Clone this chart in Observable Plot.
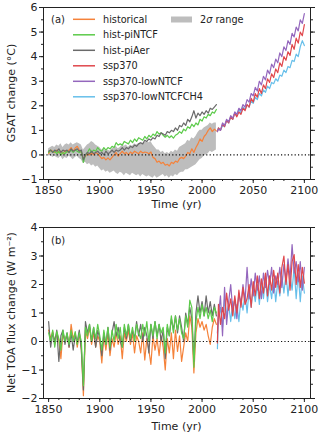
<!DOCTYPE html>
<html><head><meta charset="utf-8">
<script src="https://cdn.jsdelivr.net/npm/d3@7"></script>
<script src="https://cdn.jsdelivr.net/npm/@observablehq/plot@0.6"></script>
<style>
body{margin:0;background:#fff;font-family:"DejaVu Sans",sans-serif;}
#chart{width:320px;height:435px;}
svg{display:block;}
</style></head><body><div id="chart"></div>
<script>
// ---------- data ----------
const histYears = [
1850,1852,1854,1856,1858,1860,1862,1864,1866,1868,
1870,1872,1874,1876,1878,1880,1882,1884,1886,1888,
1890,1892,1894,1896,1898,1900,1902,1904,1906,1908,
1910,1912,1914,1916,1918,1920,1922,1924,1926,1928,
1930,1932,1934,1936,1938,1940,1942,1944,1946,1948,
1950,1952,1954,1956,1958,1960,1962,1964,1966,1968,
1970,1972,1974,1976,1978,1980,1982,1984,1986,1988,
1990,1992,1994,1996,1998,2000,2002,2004,2006,2008,
2010,2012,2014];
const sspYears = [2015,
2016,2018,2020,2022,2024,2026,2028,2030,2032,2034,
2036,2038,2040,2042,2044,2046,2048,2050,2052,2054,
2056,2058,2060,2062,2064,2066,2068,2070,2072,2074,
2076,2078,2080,2082,2084,2086,2088,2090,2092,2094,
2096,2098,2100];

// Panel (a): GSAT change (°C)
const gsatHistorical = [
0.05,0.2,0.15,0.1,0.2,0.08,0.15,0.05,0.18,0.12,
0.2,0.3,0.15,0.28,0.35,0.2,0.1,-0.15,-0.05,0.05,
0.0,0.08,0.0,0.1,0.05,-0.05,-0.15,-0.1,-0.2,-0.12,
-0.2,-0.1,0.0,0.1,-0.05,0.05,0.15,0.05,0.1,0.0,
0.12,0.05,0.15,0.1,0.05,0.15,0.08,0.12,0.1,0.05,
0.12,-0.1,-0.15,-0.3,-0.25,-0.35,-0.3,-0.42,-0.38,-0.45,
-0.3,-0.35,-0.25,-0.3,-0.15,-0.1,-0.15,-0.05,0.1,0.05,
0.25,0.1,0.3,0.45,0.65,0.55,0.75,0.85,1.0,1.1,
0.95,1.05,0.98];
const gsatRangeLow = [
-0.05,0.0,-0.1,-0.05,-0.1,-0.15,-0.05,-0.2,-0.1,-0.15,
-0.05,-0.1,-0.2,-0.1,-0.05,-0.15,-0.2,-0.35,-0.3,-0.4,
-0.35,-0.45,-0.4,-0.5,-0.45,-0.55,-0.65,-0.6,-0.7,-0.65,
-0.75,-0.7,-0.65,-0.75,-0.8,-0.7,-0.75,-0.85,-0.75,-0.8,
-0.85,-0.75,-0.8,-0.85,-0.8,-0.9,-0.8,-0.85,-0.9,-0.85,
-0.9,-0.95,-0.85,-0.95,-0.9,-0.85,-0.8,-0.9,-0.85,-0.95,
-0.85,-0.9,-0.8,-0.85,-0.75,-0.7,-0.7,-0.6,-0.6,-0.55,
-0.5,-0.45,-0.4,-0.3,-0.2,-0.15,-0.05,0.0,0.05,0.15,
0.1,0.15,0.2];
const gsatRangeHigh = [
0.25,0.3,0.35,0.3,0.4,0.35,0.45,0.3,0.4,0.45,
0.4,0.5,0.4,0.45,0.5,0.45,0.4,0.2,0.3,0.4,
0.45,0.55,0.5,0.4,0.35,0.3,0.2,0.25,0.15,0.2,
0.15,0.25,0.3,0.35,0.25,0.3,0.4,0.35,0.4,0.3,
0.4,0.35,0.45,0.4,0.45,0.5,0.45,0.5,0.55,0.5,
0.55,0.4,0.3,0.2,0.2,0.1,0.15,0.05,0.1,0.05,
0.15,0.1,0.2,0.15,0.3,0.35,0.4,0.45,0.6,0.55,
0.7,0.65,0.75,0.9,1.0,1.0,1.1,1.15,1.2,1.3,
1.25,1.3,1.3];
const gsatPiNTCF = [
0.1,0.2,0.1,0.15,0.05,0.15,0.0,0.1,0.05,0.15,
0.1,0.2,0.1,0.2,0.15,0.1,0.15,-0.3,0.0,0.1,
0.25,0.1,0.2,0.15,0.3,0.2,0.15,0.3,0.2,0.3,
0.25,0.35,0.3,0.5,0.4,0.45,0.4,0.55,0.5,0.45,
0.6,0.5,0.65,0.55,0.7,0.65,0.6,0.75,0.65,0.8,
0.72,0.85,0.78,0.95,0.85,0.9,0.8,0.72,0.8,0.7,
0.78,0.68,0.8,0.85,0.95,0.88,1.05,0.98,1.15,1.08,
1.25,1.15,1.3,1.22,1.45,1.38,1.55,1.5,1.65,1.6,
1.75,1.7,1.85];
const gsatPiAer = [
0.15,0.2,0.1,0.2,0.15,0.25,0.1,0.2,0.15,0.2,
0.1,0.25,0.15,0.2,0.25,0.15,0.2,-0.2,0.0,0.1,
0.05,0.15,0.05,0.1,0.15,0.05,0.1,0.0,0.15,0.05,
0.1,0.2,0.1,0.2,0.15,0.2,0.3,0.2,0.3,0.25,
0.35,0.3,0.4,0.35,0.45,0.5,0.45,0.6,0.55,0.65,
0.6,0.7,0.65,0.8,0.75,0.9,0.85,0.8,0.95,0.9,
1.0,0.95,1.1,1.0,1.2,1.15,1.3,1.2,1.45,1.35,
1.55,1.8,1.5,1.7,1.6,1.75,1.65,1.8,1.7,1.9,
1.85,1.95,2.05];
const gsatSsp370 = [0.95,
1.1,1.0,1.25,1.15,1.4,1.3,1.55,1.45,1.7,1.55,
1.75,1.65,1.9,1.8,2.05,1.95,2.3,2.15,2.5,2.35,
2.7,2.5,2.85,2.7,3.1,2.95,3.3,3.15,3.5,3.35,
3.75,3.6,4.0,3.85,4.2,4.05,4.5,4.3,4.75,4.55,
5.0,4.85,5.3];
const gsatLowNTCF = [0.95,
1.05,1.0,1.3,1.2,1.45,1.35,1.6,1.5,1.75,1.65,
1.9,1.8,2.05,1.95,2.25,2.15,2.5,2.4,2.75,2.6,
3.0,2.85,3.2,3.05,3.45,3.3,3.7,3.55,3.9,3.75,
4.15,4.0,4.4,4.25,4.65,4.5,4.95,4.8,5.2,5.05,
5.5,5.35,5.75];
const gsatLowNTCFCH4 = [1.0,
1.1,1.0,1.2,1.15,1.4,1.3,1.55,1.45,1.7,1.6,
1.85,1.7,1.95,1.85,2.05,1.95,2.2,2.1,2.35,2.25,
2.5,2.4,2.65,2.55,2.8,2.7,2.95,2.9,3.1,3.0,
3.25,3.2,3.45,3.35,3.6,3.55,3.85,3.8,4.1,4.0,
4.4,4.65,4.45];

// Panel (b): Net TOA flux change (W m-2)
const toaHistorical = [
0.4,0.1,0.35,-0.1,0.3,0.05,-0.6,0.3,0.0,0.25,
-0.2,0.6,0.1,0.3,-0.2,0.3,-0.3,-1.9,0.4,0.1,
0.5,-0.1,0.3,-0.2,0.2,0.0,-0.75,0.2,-0.3,0.3,
-0.5,0.1,-0.2,0.3,-0.1,0.2,-0.6,0.3,0.0,0.4,
-0.1,0.3,-0.4,0.2,0.0,-0.4,0.3,-0.65,0.1,-0.3,
-0.8,0.2,-0.3,0.1,-0.5,0.2,-0.2,-1.0,0.1,-0.4,
0.3,-0.6,0.4,-0.35,0.2,-0.7,-0.2,0.3,0.0,0.9,
0.5,-1.1,0.3,0.8,0.5,0.7,0.4,0.6,0.2,-0.1,
0.5,0.8,0.6];
const toaPiNTCF = [
0.3,0.0,0.4,-0.2,0.35,0.1,-0.3,0.4,0.0,0.3,
-0.1,0.4,0.0,0.35,-0.1,0.3,0.0,-1.55,0.5,0.2,
0.6,0.0,0.5,0.1,0.6,0.2,-0.3,0.4,-0.1,0.5,
-0.2,0.4,0.0,0.6,0.1,0.5,-0.2,0.6,0.2,0.6,
0.1,0.5,0.0,0.6,0.3,0.1,0.6,0.2,0.7,0.0,
0.6,0.2,0.7,0.1,0.6,0.3,0.5,-0.4,0.6,0.2,
0.9,0.3,0.9,0.4,0.8,0.3,0.1,0.9,0.5,1.45,
1.2,-0.9,0.7,1.2,0.8,1.3,0.9,1.2,0.8,1.1,
0.7,1.2,1.0];
const toaPiAer = [
0.7,-0.2,0.3,0.0,0.4,-0.7,0.2,0.4,-0.1,0.3,
-0.2,0.3,-0.3,0.2,0.0,0.4,-0.3,-1.7,0.7,0.3,
0.6,0.0,0.5,-0.2,0.4,0.1,-0.5,0.3,-0.1,0.5,
-0.3,0.3,0.7,0.2,0.5,0.0,-0.2,0.5,0.1,0.6,
0.0,0.4,0.1,0.7,0.2,0.6,0.0,0.5,0.2,-0.4,
0.6,0.1,0.7,0.2,0.6,0.0,0.4,-0.6,0.5,0.2,
0.8,0.4,0.9,0.3,0.9,0.5,0.0,1.0,0.6,1.2,
0.8,-0.7,1.0,1.6,1.0,1.4,0.9,1.6,1.0,1.4,
0.9,1.3,0.9];
const toaSsp370 = [-0.05,
1.3,0.6,1.2,0.8,1.7,1.1,1.5,0.9,1.6,1.0,
1.8,1.2,1.9,1.3,1.5,2.0,1.2,2.1,1.6,2.3,
1.5,2.2,1.7,2.4,1.6,2.3,1.8,2.5,1.9,2.4,
1.7,2.6,3.0,2.0,2.7,1.8,2.8,3.05,2.0,2.7,
1.9,2.6,2.05];
const toaLowNTCF = [0.3,
0.9,1.6,0.2,1.9,0.6,1.4,2.0,1.1,1.5,0.8,
1.7,1.3,2.0,1.4,2.6,1.5,2.2,1.6,2.4,1.8,
2.3,1.5,2.4,1.9,2.5,2.0,2.6,1.7,2.3,2.0,
2.6,1.9,2.7,2.1,2.9,2.2,3.4,2.4,2.8,2.1,
2.8,1.8,2.6];
const toaLowNTCFCH4 = [-0.25,
0.8,1.2,0.5,1.5,0.9,1.3,0.7,1.4,0.8,1.3,
0.7,1.5,1.1,1.7,1.0,1.8,1.2,1.9,1.4,2.0,
1.3,2.1,1.5,2.2,1.4,2.0,1.5,2.2,1.4,2.1,
1.6,2.3,1.7,2.4,1.6,2.3,1.8,2.6,1.5,2.4,
1.4,2.3,1.7];

const xMajor = [1850,1900,1950,2000,2050,2100];
const xMinor = [1850,1860,1870,1880,1890,1900,1910,1920,1930,1940,1950,1960,1970,1980,1990,2000,2010,2020,2030,2040,2050,2060,2070,2080,2090,2100];
const yMajorA = [-1,0,1,2,3,4,5,6];
const yMinorA = [-1,-0.5,0,0.5,1,1.5,2,2.5,3,3.5,4,4.5,5,5.5,6];
const yMajorB = [-2,-1,0,1,2,3,4];
const yMinorB = [-2,-1.5,-1,-0.5,0,0.5,1,1.5,2,2.5,3,3.5,4];

const seriesNames = ["historical","hist-piNTCF","hist-piAer","ssp370","ssp370-lowNTCF","ssp370-lowNTCFCH4"];
const seriesColors = ["#f5823a","#5ccb4a","#6a6a6a","#e0474c","#9467bd","#67bfea"];

// ---------- helpers ----------
const rows = (years, vals) => years.map((x, i) => ({x, y: vals[i]}));
const fmt = d => d < 0 ? "\u2212" + (-d) : String(d);
const W = 320, ML = 43, MR = 10;

function axes(yMajor, yMinor) {
  return [
    Plot.frame({stroke: "#222"}),
    Plot.axisX({ticks: xMajor, tickSize: 4, tickPadding: 3, tickFormat: d => String(d), label: null}),
    Plot.axisX({ticks: xMinor, tickSize: 2, tickFormat: () => "", label: null}),
    Plot.axisY({ticks: yMajor, tickSize: 4, tickPadding: 2, tickFormat: fmt, label: null}),
    Plot.axisY({ticks: yMinor, tickSize: 2, tickFormat: () => "", label: null}),
    Plot.axisY({anchor: "right", ticks: yMajor, tickSize: 4, tickFormat: () => "", label: null}),
    Plot.axisY({anchor: "right", ticks: yMinor, tickSize: 2, tickFormat: () => "", label: null})
  ];
}
const zero = Plot.ruleY([0], {stroke: "#111", strokeWidth: 1.2, strokeDasharray: "1.2,2.2"});
const lw = 1.2;

// ---------- panel (a) ----------
const band = histYears.map((x, i) => ({x, lo: gsatRangeLow[i], hi: gsatRangeHigh[i]}));
const svgA = Plot.plot({
  width: W, height: 215, marginLeft: ML, marginRight: MR, marginTop: 7, marginBottom: 36,
  style: {fontFamily: "DejaVu Sans", fontSize: "11px", color: "#222", background: "#fff", overflow: "visible"},
  x: {domain: [1845, 2106], label: null},
  y: {domain: [-1, 6], label: null},
  marks: [
    Plot.areaY(band, {x: "x", y1: "lo", y2: "hi", fill: "#bdbdbd"}),
    Plot.lineY(rows(histYears, gsatHistorical), {x: "x", y: "y", stroke: seriesColors[0], strokeWidth: lw}),
    Plot.lineY(rows(histYears, gsatPiNTCF), {x: "x", y: "y", stroke: seriesColors[1], strokeWidth: lw}),
    Plot.lineY(rows(histYears, gsatPiAer), {x: "x", y: "y", stroke: seriesColors[2], strokeWidth: lw}),
    Plot.lineY(rows(sspYears, gsatLowNTCFCH4), {x: "x", y: "y", stroke: seriesColors[5], strokeWidth: lw}),
    Plot.lineY(rows(sspYears, gsatSsp370), {x: "x", y: "y", stroke: seriesColors[3], strokeWidth: lw}),
    Plot.lineY(rows(sspYears, gsatLowNTCF), {x: "x", y: "y", stroke: seriesColors[4], strokeWidth: lw}),
    zero,
    ...axes(yMajorA, yMinorA)
  ]
});

// ---------- panel (b) ----------
const svgB = Plot.plot({
  width: W, height: 220, marginLeft: ML, marginRight: MR, marginTop: 12, marginBottom: 37,
  style: {fontFamily: "DejaVu Sans", fontSize: "11px", color: "#222", background: "#fff", overflow: "visible"},
  x: {domain: [1845, 2106], label: null},
  y: {domain: [-2, 4], label: null},
  marks: [
    Plot.lineY(rows(histYears, toaHistorical), {x: "x", y: "y", stroke: seriesColors[0], strokeWidth: lw}),
    Plot.lineY(rows(histYears, toaPiAer), {x: "x", y: "y", stroke: seriesColors[2], strokeWidth: lw}),
    Plot.lineY(rows(histYears, toaPiNTCF), {x: "x", y: "y", stroke: seriesColors[1], strokeWidth: lw}),
    Plot.lineY(rows(sspYears, toaLowNTCFCH4), {x: "x", y: "y", stroke: seriesColors[5], strokeWidth: lw}),
    Plot.lineY(rows(sspYears, toaLowNTCF), {x: "x", y: "y", stroke: seriesColors[4], strokeWidth: lw}),
    Plot.lineY(rows(sspYears, toaSsp370), {x: "x", y: "y", stroke: seriesColors[3], strokeWidth: lw}),
    zero,
    ...axes(yMajorB, yMinorB)
  ]
});

// ---------- titles, labels, legend ----------
function addText(svg, x, y, txt, opts = {}) {
  const t = d3.select(svg).append("text")
    .attr("x", x).attr("y", y)
    .attr("font-family", "DejaVu Sans").attr("font-size", opts.size || 11)
    .attr("fill", "#222").attr("text-anchor", opts.anchor || "start");
  if (opts.rotate) t.attr("transform", `rotate(-90 ${x} ${y})`);
  t.text(txt);
  return t;
}
addText(svgA, 15, 93, "GSAT change (°C)", {anchor: "middle", rotate: true});
addText(svgA, 176.5, 207.5, "Time (yr)", {anchor: "middle"});
addText(svgB, 15, 97.5, "Net TOA flux change (W m\u207B\u00B2)", {anchor: "middle", rotate: true});
addText(svgB, 176.5, 215, "Time (yr)", {anchor: "middle"});
addText(svgA, 51, 23, "(a)", {size: 10});
addText(svgB, 51, 29, "(b)", {size: 10});

const lg = d3.select(svgA).append("g").attr("text-anchor", "start");
seriesNames.forEach((name, i) => {
  const y = 19.3 + i * 15.5;
  lg.append("line").attr("x1", 73).attr("x2", 95).attr("y1", y).attr("y2", y)
    .attr("stroke", seriesColors[i]).attr("stroke-width", 1.5);
  lg.append("text").attr("x", 103).attr("y", y + 3.5).attr("text-anchor", "start")
    .attr("font-family", "DejaVu Sans").attr("font-size", 9.7).attr("fill", "#222").text(name);
});
lg.append("rect").attr("x", 171).attr("y", 16.5).attr("width", 21).attr("height", 6).attr("fill", "#bdbdbd");
const rt = lg.append("text").attr("x", 200).attr("y", 23).attr("text-anchor", "start")
  .attr("font-family", "DejaVu Sans").attr("font-size", 9.7).attr("fill", "#222");
rt.append("tspan").text("2");
rt.append("tspan").attr("font-style", "italic").text("\u03C3");
rt.append("tspan").text(" range");

const chart = document.getElementById("chart");
chart.appendChild(svgA);
chart.appendChild(svgB);
</script>
</body></html>
